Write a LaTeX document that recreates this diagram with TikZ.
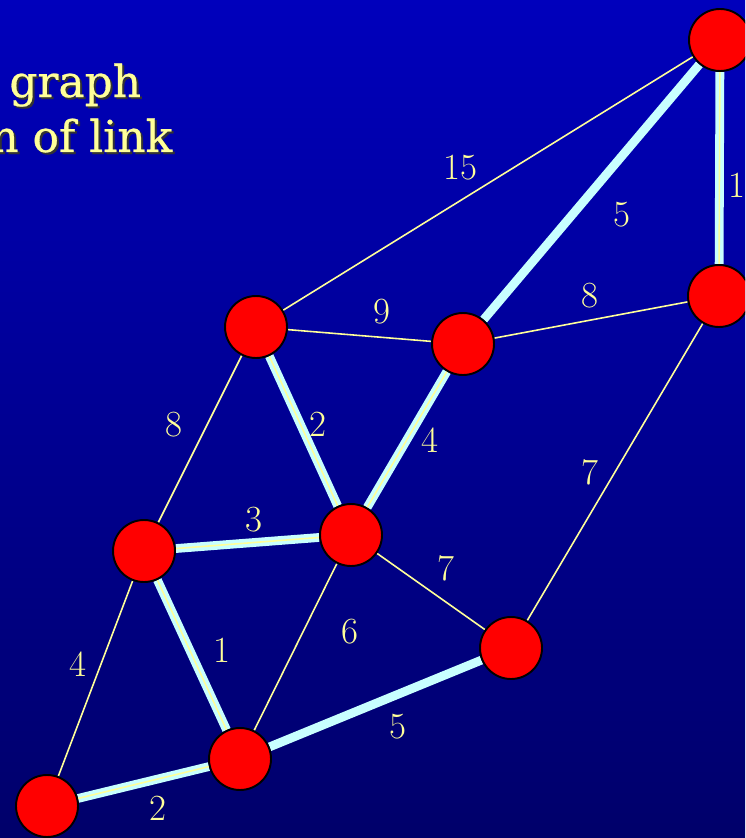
\documentclass[tikz,border=0pt]{standalone}
\usepackage{fontspec}
\usepackage{xcolor}
\usetikzlibrary{backgrounds}
\newfontfamily\titlefont[FakeBold=0.6]{DejaVu Serif}

\definecolor{bgtop}{HTML}{0000BC}
\definecolor{bgbottom}{HTML}{00006A}
\definecolor{linkyellow}{HTML}{FFFF99}
\definecolor{treecyan}{HTML}{C8FFFF}

\begin{document}
\begin{tikzpicture}[x=0.02cm, y=-0.02cm,
  every node/.style={inner sep=0pt},
  vertex/.style={circle, fill=red, draw=black, line width=1.1pt, minimum size=1.24cm},
  link/.style={draw=linkyellow, line width=0.9pt},
  tree/.style={draw=treecyan, line width=5pt},
  weight/.style={text=linkyellow, font=\fontsize{21}{21}\selectfont},
  heading/.style={anchor=base west, font=\titlefont\fontsize{25}{25}\selectfont}]
\useasboundingbox (0,0) rectangle (745,838);
\clip (0,0) rectangle (745,838);

% Vertices
\node[vertex] (a) at (720,40)  {};
\node[vertex] (b) at (719,296) {};
\node[vertex] (c) at (256,327) {};
\node[vertex] (d) at (463,344) {};
\node[vertex] (e) at (351,535) {};
\node[vertex] (f) at (144,551) {};
\node[vertex] (g) at (511,648) {};
\node[vertex] (h) at (240,759) {};
\node[vertex] (i) at (47,806)  {};

\begin{scope}[on background layer]
\shade[top color=bgtop, bottom color=bgbottom] (0,0) rectangle (745,838);

% Spanning tree edges - thick
\foreach \u/\v in {a/b, a/d, c/e, d/e, f/e, f/h, h/g, i/h}
  \draw[tree] (\u) -- (\v);

% Links - thin
\foreach \u/\v in {a/b, a/c, c/d, d/b, c/e, d/e, c/f, b/g, f/e, e/g, e/h, f/h, f/i, i/h}
  \draw[link] (\u) -- (\v);
\end{scope}

% Weights
\node[weight] (wab) at (737,185) {1};
\node[weight] (wad) at (622,215) {5};
\node[weight] (wac) at (460,168) {15};
\node[weight] (wcd) at (382,312) {9};
\node[weight] (wdb) at (590,296) {8};
\node[weight] (wce) at (318,424) {2};
\node[weight] (wde) at (430,440) {4};
\node[weight] (wcf) at (174,425) {8};
\node[weight] (wbg) at (590,472) {7};
\node[weight] (wfe) at (254,520) {3};
\node[weight] (weg) at (446,568) {7};
\node[weight] (weh) at (350,632) {6};
\node[weight] (wfh) at (222,650) {1};
\node[weight] (wfi) at (78,664)  {4};
\node[weight] (whg) at (398,727) {5};
\node[weight] (wih) at (158,808) {2};

% Heading, with shadow
\node[heading, text=black!80] (shadow1) at (11,99)  {graph};
\node[heading, text=black!80] (shadow2) at (-8,154) {n of link};
\node[heading, text=linkyellow] (title1) at (9,97)  {graph};
\node[heading, text=linkyellow] (title2) at (-10,152) {n of link};
\end{tikzpicture}
\end{document}
